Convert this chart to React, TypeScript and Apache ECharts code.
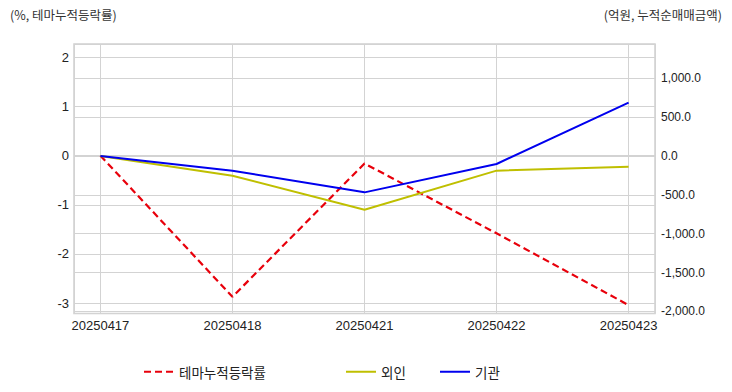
import React, { useEffect, useRef } from "react";
import * as echarts from "echarts";

const categories = ["20250417", "20250418", "20250421", "20250422", "20250423"];
const themeReturn = [0, -2.87, -0.16, -1.58, -3.04];
const foreign = [0, -254, -692, -189, -138];
const institution = [0, -189, -468, -103, 687];

const FONT = "'Liberation Sans', 'Noto Sans CJK KR', sans-serif";
const KFONT = "'Noto Sans CJK KR', sans-serif";

const fmtRight = (v: number) =>
  v.toLocaleString("en-US", { minimumFractionDigits: 1, maximumFractionDigits: 1 });

export default function App() {
  const ref = useRef<HTMLDivElement>(null);
  useEffect(() => {
    if (!ref.current) return;
    const chart = echarts.init(ref.current, null, { renderer: "svg" });
    const toPairs = (arr: number[]) => arr.map((v, i) => [i, v]);
    const gridColor = "#d3d3d3";
    const legendCommon = {
      top: 360,
      itemWidth: 30,
      itemHeight: 12,
      itemGap: 10,
      itemStyle: { opacity: 0 },
      textStyle: { fontSize: 13.5, fontFamily: KFONT, color: "#222" },
    };
    chart.setOption({
      animation: false,
      grid: {
        left: 74,
        right: 77,
        top: 44,
        bottom: 78.5,
        show: true,
        borderColor: "#cfcfcf",
        borderWidth: 1.5,
      },
      graphic: [
        {
          type: "text",
          left: 10,
          top: 8,
          style: { text: "(%, 테마누적등락률)", fontSize: 12.5, fontFamily: KFONT, fill: "#333" },
        },
        {
          type: "text",
          right: 10,
          top: 8,
          style: { text: "(억원, 누적순매매금액)", fontSize: 12.5, fontFamily: KFONT, fill: "#333" },
        },
      ],
      legend: [
        { ...legendCommon, left: 138, data: ["테마누적등락률"] },
        { ...legendCommon, left: 340, data: ["외인"] },
        { ...legendCommon, left: 434, data: ["기관"] },
      ],
      xAxis: {
        type: "value",
        min: -0.2,
        max: 4.2,
        axisLine: { show: false },
        axisTick: { show: false },
        splitLine: { show: true, lineStyle: { color: gridColor, width: 1 } },
        axisLabel: {
          showMinLabel: false,
          showMaxLabel: false,
          margin: 5,
          fontSize: 13,
          fontFamily: FONT,
          color: "#222",
          formatter: (v: number) =>
            Math.abs(v - Math.round(v)) < 1e-6 && categories[Math.round(v)] !== undefined
              ? categories[Math.round(v)]
              : "",
        },
      },
      yAxis: [
        {
          type: "value",
          min: -3.21,
          max: 2.27,
          axisLine: { show: false },
          axisTick: { show: false },
          splitLine: { show: true, lineStyle: { color: gridColor, width: 1 } },
          axisLabel: {
            showMinLabel: false,
            showMaxLabel: false,
            margin: 5,
            fontSize: 13,
            fontFamily: FONT,
            color: "#222",
            formatter: (v: number) =>
              Math.abs(v - Math.round(v)) < 1e-6 ? String(Math.round(v)) : "",
          },
        },
        {
          type: "value",
          min: -2026,
          max: 1440,
          position: "right",
          axisLine: { show: false },
          axisTick: { show: false },
          splitLine: { show: true, lineStyle: { color: gridColor, width: 1 } },
          axisLabel: {
            showMinLabel: false,
            showMaxLabel: false,
            margin: 6,
            fontSize: 12,
            fontFamily: FONT,
            color: "#222",
            formatter: (v: number) => (Math.abs(v % 500) < 1e-6 ? fmtRight(v) : ""),
          },
        },
      ],
      series: [
        {
          name: "테마누적등락률",
          type: "line",
          yAxisIndex: 0,
          data: toPairs(themeReturn),
          symbol: "none",
          lineStyle: { color: "#e8000b", width: 2.2, type: [7, 4] },
          itemStyle: { color: "#e8000b" },
        },
        {
          name: "외인",
          type: "line",
          yAxisIndex: 1,
          data: toPairs(foreign),
          symbol: "none",
          lineStyle: { color: "#bfbf00", width: 2 },
          itemStyle: { color: "#bfbf00" },
        },
        {
          name: "기관",
          type: "line",
          yAxisIndex: 1,
          data: toPairs(institution),
          symbol: "none",
          lineStyle: { color: "#0000ee", width: 2 },
          itemStyle: { color: "#0000ee" },
        },
      ],
    });
    return () => chart.dispose();
  }, []);
  return (
    <div
      ref={ref}
      style={{ position: "fixed", left: 0, top: 0, width: 732, height: 392, background: "#fff" }}
    />
  );
}
